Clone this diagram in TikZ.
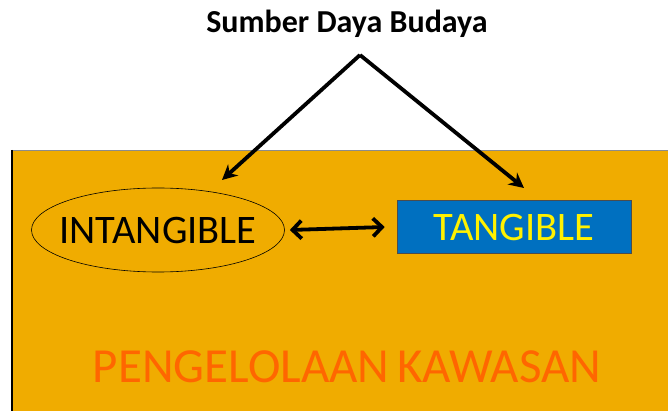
\documentclass[tikz,border=0pt]{standalone}
\usepackage{fontspec}
\setmainfont{Carlito}
\usetikzlibrary{arrows.meta,shapes.geometric}
\definecolor{kawasan}{RGB}{240,172,0}
\definecolor{tangblue}{RGB}{0,112,192}
\definecolor{pengelola}{RGB}{255,102,0}

\begin{document}
\begin{tikzpicture}[x=1pt,y=-1pt]
			%%%%% START %%%%%
			\useasboundingbox (0, 0) rectangle (668, 411);
			
			\fill[color=kawasan] (12, 150) rectangle (668, 411);
			\draw[line width=0.8pt, color=black!45] (12, 150) -- (668, 150);
			\draw[line width=1.2pt, color=black] (12, 150) -- (12, 411);
			
			\node[font=\bfseries\fontsize{32}{36}\selectfont] (judul) at (347, 24) {Sumber Daya Budaya};
			\coordinate (puncak) at (360, 55);
			
			\node[ellipse, draw, line width=0.6pt, minimum width=253, minimum height=84, inner sep=0] (elips) at (158, 230) {};
			\node[font=\fontsize{40.5}{44}\selectfont] (intangible) at (elips) {INTANGIBLE};
			\node[draw=black!70, line width=0.6pt, fill=tangblue, text=yellow, minimum width=234, minimum height=53, inner sep=0, font=\fontsize{40.5}{44}\selectfont] (tangible) at (514, 227) {TANGIBLE};
			
			\node[text=pengelola, font=\fontsize{49}{53}\selectfont] (pengelolaan) at (347, 367) {PENGELOLAAN\hspace{-3pt} KAWASAN};
			
			\coordinate (ujungkiri) at (222, 180);
			\coordinate (ujungkanan) at (524, 188);
			\draw[line width=3.8pt, -{Stealth[length=15pt,width=15pt]}] (puncak) -- (ujungkiri);
			\draw[line width=3.8pt, -{Stealth[length=15pt,width=15pt]}] (puncak) -- (ujungkanan);
			
			\draw[line width=3.8pt, {Straight Barb[length=9pt,width=18pt]}-{Straight Barb[length=9pt,width=18pt]}] ([xshift=5pt]elips.east) -- ([xshift=-12pt]tangible.west);
			
			%%%%% END %%%%%
		\end{tikzpicture}
\end{document}
